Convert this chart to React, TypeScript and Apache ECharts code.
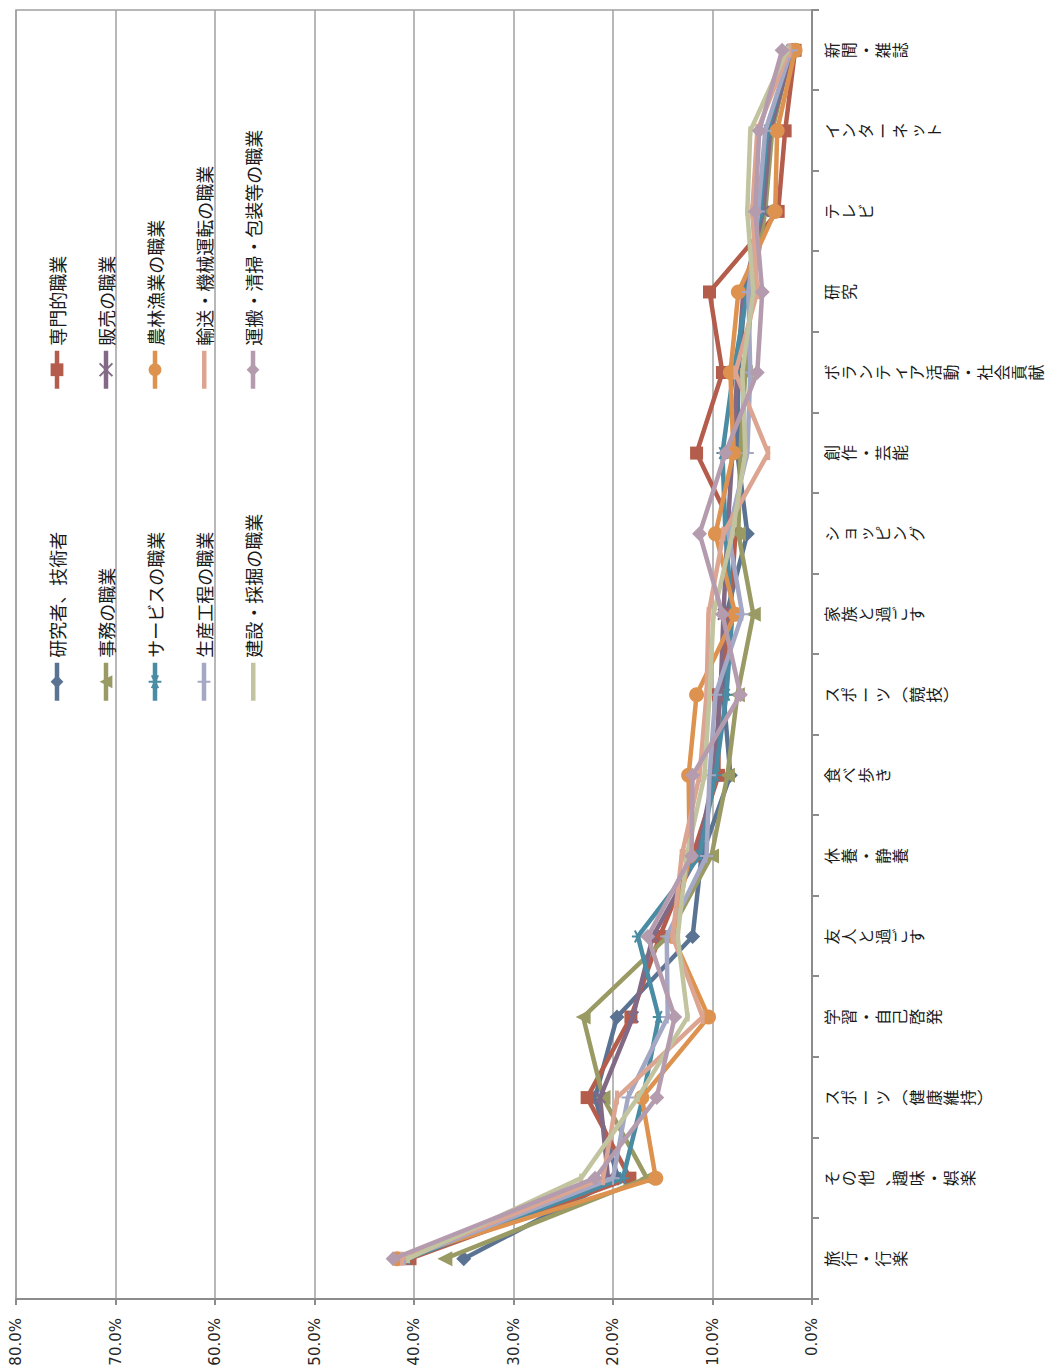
import React, { useEffect, useRef } from "react";
import * as echarts from "echarts";

// ---- data (values in %) ----
const categories = [
  "旅行・行楽",
  "その他、趣味・娯楽",
  "スポーツ（健康維持）",
  "学習・自己啓発",
  "友人と過ごす",
  "休養・静養",
  "食べ歩き",
  "スポーツ（競技）",
  "家族と過ごす",
  "ショッピング",
  "創作・芸能",
  "ボランティア活動・社会貢献",
  "研究",
  "テレビ",
  "インターネット",
  "新聞・雑誌",
];

const seriesNames = [
  "研究者、技術者",
  "専門的職業",
  "事務の職業",
  "販売の職業",
  "サービスの職業",
  "農林漁業の職業",
  "生産工程の職業",
  "輸送・機械運転の職業",
  "建設・採掘の職業",
  "運搬・清掃・包装等の職業",
];

const researchers = [35.0, 19.5, 21.8, 19.6, 12.0, 11.1, 8.2, 8.9, 8.6, 6.5, 7.5, 7.4, 6.7, 5.0, 4.4, 2.0];
const professional = [40.4, 18.3, 22.6, 18.2, 15.3, 12.0, 9.4, 9.4, 8.2, 7.7, 11.6, 9.0, 10.3, 3.4, 2.7, 1.7];
const clerical = [36.9, 16.6, 21.0, 23.0, 14.5, 10.1, 8.5, 7.5, 5.9, 7.4, 7.2, 6.7, 6.0, 4.7, 4.0, 2.1];
const sales = [41.0, 20.5, 21.3, 18.0, 16.0, 11.5, 9.9, 9.2, 8.9, 8.5, 8.0, 7.5, 6.9, 4.9, 4.2, 2.0];
const service = [40.7, 19.0, 17.0, 15.4, 17.5, 11.3, 9.7, 8.6, 8.0, 8.7, 9.0, 7.9, 6.5, 5.2, 4.5, 2.2];
const agriculture = [41.7, 15.7, 17.1, 10.4, 14.0, 12.3, 12.4, 11.6, 7.7, 9.7, 7.9, 8.2, 7.4, 3.7, 3.5, 1.7];
const production = [40.9, 20.0, 18.5, 14.5, 14.6, 10.6, 10.3, 9.7, 7.0, 8.4, 6.5, 6.2, 6.4, 5.4, 4.7, 2.1];
const transport = [41.2, 21.0, 19.6, 11.0, 14.0, 13.1, 11.3, 10.6, 10.4, 8.9, 4.4, 7.7, 5.5, 6.0, 5.5, 2.3];
const construction = [40.6, 23.2, 17.5, 12.5, 13.5, 12.6, 10.8, 10.3, 9.9, 8.0, 6.7, 7.0, 5.9, 6.5, 6.2, 2.5];
const carrying = [42.1, 21.8, 15.6, 13.8, 16.5, 12.1, 12.0, 7.2, 9.0, 11.3, 8.7, 5.5, 5.0, 5.7, 5.3, 3.0];

const seriesValues = [
  researchers,
  professional,
  clerical,
  sales,
  service,
  agriculture,
  production,
  transport,
  construction,
  carrying,
];

const valueTicks = { min: 0, max: 80, interval: 10 };

// ---- styles ----
const colors = [
  "#5b7393",
  "#b55d4c",
  "#9a9b64",
  "#826a86",
  "#4a8ca3",
  "#dd924f",
  "#a4a8c5",
  "#dca591",
  "#c2c39f",
  "#b49cae",
];
const symbols: any[] = [
  "diamond",
  "rect",
  "triangle",
  "path://M0,0L10,10M10,0L0,10",
  "path://M5,0L5,10M0.7,2.5L9.3,7.5M0.7,7.5L9.3,2.5",
  "circle",
  "path://M5,0L5,10M0,5L10,5",
  "rect",
  "rect",
  "diamond",
];
const symbolSizes: any[] = [15, 13, 15, 11, 12, 15, 13, [14, 4], [9, 4], 15];
const strokeSymbols = [false, false, false, true, true, false, true, false, false, false];
// legend shows a plain line (no marker) for these series
const plainLegendLine = [false, false, false, false, false, false, false, true, true, false];
const PLAIN_LINE_ICON = "path://M0,0M0,6L38,6L38,10.5L0,10.5ZM38,16";

const FONT_JP = "'Noto Sans CJK JP', 'Noto Sans', sans-serif";

function stack(v: string): string {
  return Array.from(v)
    .map((c) => (c === "（" ? "︵" : c === "）" ? "︶" : c))
    .join("\n");
}

function legendItem(k: number) {
  return plainLegendLine[k]
    ? { name: seriesNames[k], icon: PLAIN_LINE_ICON }
    : { name: seriesNames[k] };
}

export default function App() {
  const ref = useRef<HTMLDivElement>(null);

  useEffect(() => {
    if (!ref.current) return;
    const chart = echarts.init(ref.current, null, { renderer: "svg" });

    const series = seriesNames.map((name, i) => ({
      name,
      type: "line",
      data: seriesValues[i],
      symbol: symbols[i],
      symbolSize: symbolSizes[i],
      showAllSymbol: true,
      z: 2 + i,
      lineStyle: { width: 4.5, color: colors[i] },
      itemStyle: strokeSymbols[i]
        ? { color: colors[i], borderColor: colors[i], borderWidth: 2 }
        : { color: colors[i] },
      emphasis: { disabled: true },
    }));

    const legendCommon = {
      orient: "vertical",
      itemWidth: 38,
      itemHeight: 16,
      itemGap: 29,
      top: 42,
      lineStyle: { width: 4.5 },
      textStyle: {
        fontSize: 18,
        lineHeight: 20,
        color: "#1a1a1a",
        fontFamily: FONT_JP,
      },
    };

    chart.setOption({
      animation: false,
      backgroundColor: "#ffffff",
      grid: {
        left: 70,
        right: 10,
        top: 16,
        bottom: 239,
        show: true,
        borderColor: "#a0a0a0",
        borderWidth: 1.5,
      },
      legend: [
        { ...legendCommon, left: 661, data: [0, 2, 4, 6, 8].map(legendItem) },
        { ...legendCommon, left: 973, data: [1, 3, 5, 7, 9].map(legendItem) },
      ],
      xAxis: {
        type: "category",
        data: categories,
        boundaryGap: true,
        axisLine: { show: true, lineStyle: { color: "#8c8c8c", width: 2 } },
        axisTick: { show: true, length: 7, lineStyle: { color: "#8c8c8c", width: 2 } },
        axisLabel: {
          interval: 0,
          margin: 10,
          fontSize: 16,
          lineHeight: 17,
          color: "#1a1a1a",
          fontFamily: FONT_JP,
          formatter: (v: string) => stack(v),
        },
      },
      yAxis: {
        type: "value",
        min: valueTicks.min,
        max: valueTicks.max,
        interval: valueTicks.interval,
        axisLine: { show: true, lineStyle: { color: "#8c8c8c", width: 2 } },
        axisTick: { show: true, length: 6, lineStyle: { color: "#8c8c8c", width: 2 } },
        splitLine: { show: true, lineStyle: { color: "#a0a0a0", width: 1.5 } },
        axisLabel: {
          margin: 19,
          fontSize: 15,
          color: "#262626",
          fontFamily: "'DejaVu Sans', sans-serif",
          formatter: (v: number) => v.toFixed(1) + "%",
        },
      },
      series,
    });

    return () => chart.dispose();
  }, []);

  return (
    <div
      style={{
        position: "fixed",
        left: 0,
        top: 0,
        width: 1051,
        height: 1369,
        overflow: "hidden",
        background: "#ffffff",
      }}
    >
      <div
        style={{
          position: "absolute",
          left: 0,
          top: 0,
          width: 1369,
          height: 1051,
          transformOrigin: "0 0",
          transform: "translateY(1369px) rotate(-90deg)",
        }}
      >
        <div ref={ref} style={{ width: 1369, height: 1051 }} />
      </div>
    </div>
  );
}
